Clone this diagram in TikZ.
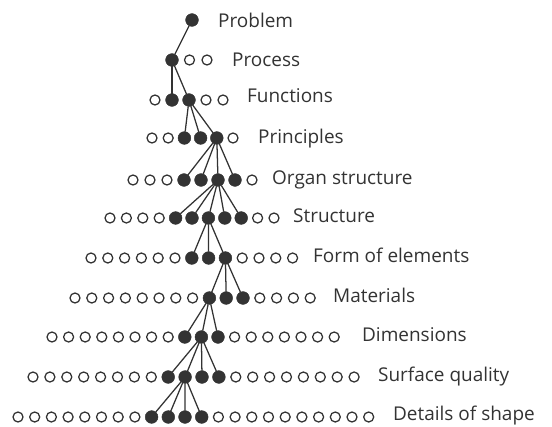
\documentclass[tikz,border=0pt]{standalone}
\usepackage{fontspec}
\setmainfont{Open Sans}
\usepackage{xcolor}
\usepackage{tikz}

\definecolor{ink}{HTML}{333333}

\tikzset{
  dot/.style={circle, fill=ink, draw=ink, line width=0.6pt,
    minimum size=0.64cm, inner sep=0pt, outer sep=0pt},
  ring/.style={circle, draw=ink, line width=1.8pt,
    minimum size=0.5cm, inner sep=0pt, outer sep=0pt},
  stem/.style={draw=ink, line width=1.8pt},
  lbl/.style={anchor=base west, inner sep=0pt, text=ink,
    font=\fontsize{27}{30}\selectfont},
}

\begin{document}
\begin{tikzpicture}[x=0.05cm, y=-0.05cm]
  \useasboundingbox (0,0) rectangle (552,426);

  % -- rows of variants: open left, chosen (filled), open right, label --
  \foreach \r/\y/\xs/\sp/\nl/\nf/\nr/\lx/\ly/\txt in {
    1/20/192/17/0/1/0/218/28/Problem,
    2/60/172/17.5/0/1/2/232/67/Process,
    3/100/155/17/1/2/2/247/102/Functions,
    4/138/152/16.2/2/3/1/258/143/Principles,
    5/180/133/17/3/4/1/272/184/Organ structure,
    6/218/110/16.4/4/5/2/293/222/Structure,
    7/258/91/16.8/6/3/4/313/262/Form of elements,
    8/298/75/16.8/8/3/4/333/302/Materials,
    9/337/52/16.6/8/3/7/362/341/Dimensions,
    10/377/33/16.9/8/4/8/378/381/Surface quality,
    11/417/18/16.7/8/4/10/393/420/Details of shape} {
    % open, left of the chosen ones
    \ifnum\nl>0
      \foreach \i in {1,...,\nl}
        \node[ring] (ol\r-\i) at ({\xs+(\i-1)*\sp},\y) {};
    \fi
    % chosen
    \foreach \j in {1,...,\nf}
      \node[dot] (f\r-\j) at ({\xs+(\nl+\j-1)*\sp},\y) {};
    % open, right of the chosen ones
    \ifnum\nr>0
      \foreach \k in {1,...,\nr}
        \node[ring] (or\r-\k) at ({\xs+(\nl+\nf+\k-1)*\sp},\y) {};
    \fi
    \node[lbl] (lbl\r) at (\lx,\ly) {\txt};
  }

  % -- branches: parent dot of row r to every dot of row r+1 --
  \foreach \r/\p/\nc in {1/1/1, 2/1/2, 3/2/3, 4/3/4, 5/3/5,
                         6/3/3, 7/3/3, 8/1/3, 9/2/4, 10/2/4} {
    \pgfmathtruncatemacro{\rn}{\r+1}
    \foreach \c in {1,...,\nc}
      \draw[stem] (f\r-\p) -- (f\rn-\c);
  }
\end{tikzpicture}
\end{document}
